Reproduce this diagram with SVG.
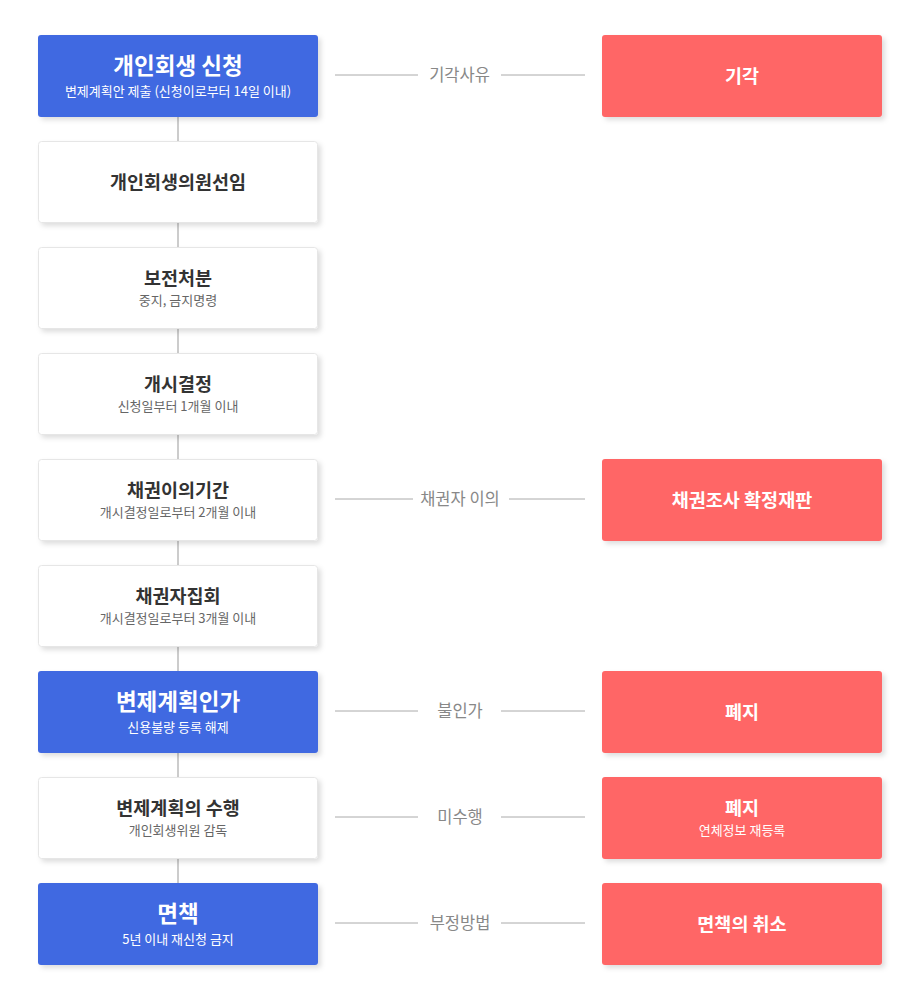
<svg xmlns="http://www.w3.org/2000/svg" width="920" height="1000" viewBox="0 0 920 1000">
<defs>
<filter id="sh" x="-10%" y="-20%" width="130%" height="150%">
<feDropShadow dx="3" dy="3" stdDeviation="2.5" flood-color="#000" flood-opacity="0.13"/>
</filter>
<style>
text{font-family:"Noto Sans CJK KR","Noto Sans",sans-serif;text-anchor:middle}
.b{fill:#4169e1;filter:url(#sh)}
.w{fill:#fff;stroke:#e6e6e6;stroke-width:1;filter:url(#sh)}
.r{fill:#ff6666;filter:url(#sh)}
.bt{fill:#fff;font-size:22.5px;font-weight:700}
.bs{fill:#fff;font-size:13px}
.wt{fill:#333;font-size:18.5px;font-weight:700}
.ws{fill:#666;font-size:13px}
.rt{fill:#fff;font-size:18.5px;font-weight:700}
.rs{fill:#fff;font-size:13px}
.lb{fill:#888;font-size:16.5px}
.ln{stroke:#aaa;stroke-width:1}
.vl{stroke:#999;stroke-width:1}
</style>
</defs>
<rect width="920" height="1000" fill="#fff"/>
<g id="connectors">
<line class="vl" x1="178" y1="117" x2="178" y2="883"/>
<line class="ln" x1="335" y1="75" x2="418" y2="75"/><line class="ln" x1="501" y1="75" x2="585" y2="75"/>
<text class="lb" x="459.5" y="81">기각사유</text>
<line class="ln" x1="335" y1="499" x2="413" y2="499"/><line class="ln" x1="509" y1="499" x2="585" y2="499"/>
<text class="lb" x="460" y="505">채권자 이의</text>
<line class="ln" x1="335" y1="711" x2="418" y2="711"/><line class="ln" x1="501" y1="711" x2="585" y2="711"/>
<text class="lb" x="460" y="717">불인가</text>
<line class="ln" x1="335" y1="817" x2="418" y2="817"/><line class="ln" x1="501" y1="817" x2="585" y2="817"/>
<text class="lb" x="460" y="823">미수행</text>
<line class="ln" x1="335" y1="923" x2="418" y2="923"/><line class="ln" x1="501" y1="923" x2="585" y2="923"/>
<text class="lb" x="460" y="929">부정방법</text>
</g>
<g id="n1"><rect class="b" x="38" y="35" width="280" height="82" rx="3"/><text class="bt" x="178" y="74">개인회생 신청</text><text class="bs" x="178" y="96">변제계획안 제출 (신청이로부터 14일 이내)</text></g>
<g id="n2"><rect class="w" x="38.5" y="141.5" width="279" height="81" rx="3"/><text class="wt" x="178" y="188.5">개인회생의원선임</text></g>
<g id="n3"><rect class="w" x="38.5" y="247.5" width="279" height="81" rx="3"/><text class="wt" x="178" y="284.5">보전처분</text><text class="ws" x="178" y="304.5">중지, 금지명령</text></g>
<g id="n4"><rect class="w" x="38.5" y="353.5" width="279" height="81" rx="3"/><text class="wt" x="178" y="390.5">개시결정</text><text class="ws" x="178" y="410.5">신청일부터 1개월 이내</text></g>
<g id="n5"><rect class="w" x="38.5" y="459.5" width="279" height="81" rx="3"/><text class="wt" x="178" y="496.5">채권이의기간</text><text class="ws" x="178" y="516.5">개시결정일로부터 2개월 이내</text></g>
<g id="n6"><rect class="w" x="38.5" y="565.5" width="279" height="81" rx="3"/><text class="wt" x="178" y="602.5">채권자집회</text><text class="ws" x="178" y="622.5">개시결정일로부터 3개월 이내</text></g>
<g id="n7"><rect class="b" x="38" y="671" width="280" height="82" rx="3"/><text class="bt" x="178" y="710">변제계획인가</text><text class="bs" x="178" y="732">신용불량 등록 해제</text></g>
<g id="n8"><rect class="w" x="38.5" y="777.5" width="279" height="81" rx="3"/><text class="wt" x="178" y="814.5">변제계획의 수행</text><text class="ws" x="178" y="834.5">개인회생위원 감독</text></g>
<g id="n9"><rect class="b" x="38" y="883" width="280" height="82" rx="3"/><text class="bt" x="178" y="922">면책</text><text class="bs" x="178" y="944">5년 이내 재신청 금지</text></g>
<g id="r1"><rect class="r" x="602" y="35" width="280" height="82" rx="3"/><text class="rt" x="742" y="82.5">기각</text></g>
<g id="r2"><rect class="r" x="602" y="459" width="280" height="82" rx="3"/><text class="rt" x="742" y="506.5">채권조사 확정재판</text></g>
<g id="r3"><rect class="r" x="602" y="671" width="280" height="82" rx="3"/><text class="rt" x="742" y="718.5">폐지</text></g>
<g id="r4"><rect class="r" x="602" y="777" width="280" height="82" rx="3"/><text class="rt" x="742" y="814.5">폐지</text><text class="rs" x="742" y="834.5">연체정보 재등록</text></g>
<g id="r5"><rect class="r" x="602" y="883" width="280" height="82" rx="3"/><text class="rt" x="742" y="930.5">면책의 취소</text></g>
</svg>
